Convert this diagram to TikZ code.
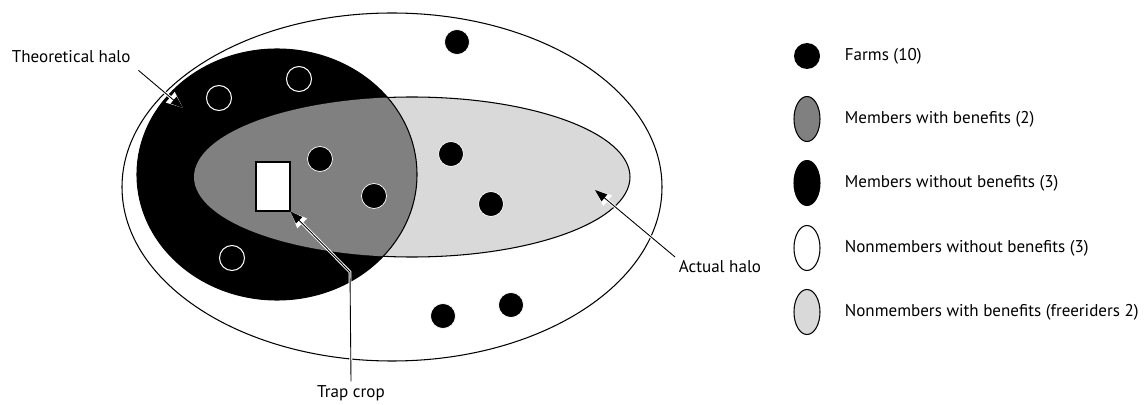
\documentclass[tikz,border=0pt]{standalone}
\usepackage{fontspec}
\setmainfont{PT Sans}
\usetikzlibrary{arrows.meta,shapes.geometric}

\definecolor{midgray}{HTML}{808080}
\definecolor{lightgray}{HTML}{D9D9D9}

\tikzset{
  farm/.style={circle, fill=black, draw=white, line width=0.4pt, minimum size=25*0.02cm, inner sep=0pt},
  nonmember/.style={circle, draw=white, line width=0.6pt, minimum size=25*0.02cm, inner sep=0pt},
  keyshape/.style={ellipse, draw=black, line width=0.6pt, minimum width=26*0.02cm, minimum height=45*0.02cm, inner sep=0pt},
  label/.style={font=\fontsize{9.7}{12}\selectfont, inner sep=2pt},
  halo/.style={draw=white, line width=1.6pt, -{Triangle[length=9.5pt, width=7.5pt]}},
  callout/.style={draw=black, line width=0.5pt, -{Triangle[length=7pt, width=5pt]}}
}

\begin{document}
\begin{tikzpicture}[x=0.02cm, y=-0.02cm]
\useasboundingbox (0,0) rectangle (1147,405);

% regions
\draw[fill=white, line width=0.6pt] (392,187) ellipse (270 and 174);
\fill[black] (277,174.5) ellipse (140 and 125.5);
\draw[fill=lightgray, line width=0.6pt] (412,177) ellipse (218 and 80);
\begin{scope}
  \clip (277,174.5) ellipse (140 and 125.5);
  \fill[midgray] (412,177) ellipse (218 and 80);
\end{scope}
\draw[line width=0.6pt] (277,174.5) ellipse (140 and 125.5);

% farms
\node[farm] (f1) at (457,42) {};
\node[farm] (f2) at (320,159) {};
\node[farm] (f3) at (374,196) {};
\node[farm] (f4) at (451,154) {};
\node[farm] (f5) at (491,204) {};
\node[farm] (f6) at (443,316) {};
\node[farm] (f7) at (511,305) {};
\node[nonmember] (n1) at (219,98) {};
\node[nonmember] (n2) at (299,79) {};
\node[nonmember] (n3) at (232,258) {};

% trap crop
\node[draw=black, fill=white, line width=0.6pt, minimum width=34*0.02cm, minimum height=49*0.02cm, inner sep=0pt] (crop) at (273,186.5) {};

% labels
\node[label, anchor=west] (theo) at (8,57) {Theoretical halo};
\node[label, anchor=west] (act) at (675,267) {Actual halo};
\node[label] (trap) at (351,393) {Trap crop};
\coordinate (theotip) at (183,108);
\coordinate (acttip) at (595,190);
\coordinate (bend) at (350,272);

\draw[halo, shorten <=3pt] (theo.south east) -- (theotip);
\draw[callout, shorten <=3pt] (theo.south east) -- (theotip);
\draw[halo] (act.north west) -- (acttip);
\draw[callout] (act.north west) -- (acttip);
\draw[halo] (trap.north) -- (bend) -- (crop.south east);
\draw[callout] (trap.north) -- (bend) -- (crop.south east);

% key
\node[circle, fill=black, minimum size=26*0.02cm, inner sep=0pt] (k1) at (807,56) {};
\node[label, anchor=west] at (841,56) {Farms (10)};
\foreach \y/\col/\txt [count=\i from 2] in {119/midgray/Members with benefits (2),
    183/black/Members without benefits (3),
    248/white/Nonmembers without benefits (3),
    312/lightgray/Nonmembers with benefits (freeriders 2)} {
  \node[keyshape, fill=\col] (k\i) at (807,\y) {};
  \node[label, anchor=west] at (841,\y) {\txt};
}
\end{tikzpicture}
\end{document}
